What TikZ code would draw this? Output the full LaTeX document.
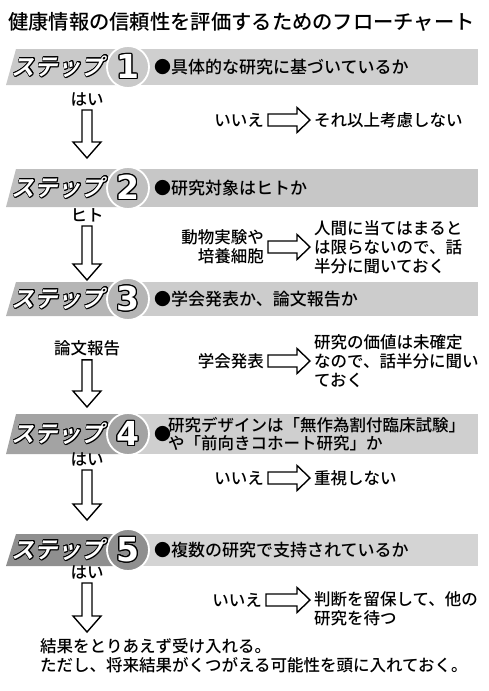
\documentclass[tikz,border=0pt]{standalone}
\usepackage{fontspec}
\usepackage{contour}
\usetikzlibrary{calc}
\setmainfont{Noto Sans CJK JP Medium}[BoldFont={Noto Sans CJK JP Bold}]
\newfontfamily\stepfont{Noto Sans CJK JP Bold}[FakeSlant=0.25]
\newfontfamily\numfont{DejaVu Sans}
\contourlength{0.9pt}

\tikzset{
  blockarrow/.style n args={3}{draw, fill=white, line width=1.4pt, line join=miter,
    to path={($(\tikztostart)!#1!90:(\tikztotarget)$)
      -- ($($(\tikztotarget)!#3!(\tikztostart)$)!#1!90:(\tikztotarget)$)
      -- ($($(\tikztotarget)!#3!(\tikztostart)$)!#2!90:(\tikztotarget)$)
      -- (\tikztotarget)
      -- ($($(\tikztotarget)!#3!(\tikztostart)$)!#2!-90:(\tikztotarget)$)
      -- ($($(\tikztotarget)!#3!(\tikztostart)$)!#1!-90:(\tikztotarget)$)
      -- ($(\tikztostart)!#1!-90:(\tikztotarget)$) -- cycle}},
  yes arrow/.style={blockarrow={5pt}{14pt}{16pt}},
  no arrow/.style={blockarrow={6pt}{12.5pt}{13pt}}
}

\begin{document}
\begin{tikzpicture}[x=1pt,y=-1pt,
  label node/.style={inner sep=4pt,font=\fontsize{16.5}{19}\selectfont},
  ask node/.style={anchor=west,inner sep=2pt,font=\fontsize{17}{18}\selectfont},
  step badge/.style={circle,draw=white,line width=1.8pt,minimum size=42pt,inner sep=0pt,text=white,font=\numfont\bfseries\fontsize{33}{33}\selectfont},
  step name/.style={inner sep=0pt,text=white,font=\stepfont\fontsize{23}{23}\selectfont}]
\useasboundingbox (0,0) rectangle (488,691);

\node[anchor=west,inner sep=0pt,font=\fontsize{20.3}{22}\selectfont] (title) at (8,22) {健康情報の信頼性を評価するためのフローチャート};

\foreach \n/\y/\h/\l/\b in {1/67/18/42/38,2/188/19/50/44,3/299/17/58/40,4/434/20/72/38,5/550/16/88/34}{
  \fill[gray!\b] (128,\y-\h) rectangle (478,\y+\h);
  \fill[gray!\l] (6,\y+\h) -- (16,\y-\h) -- (128,\y-\h) -- (128,\y+\h) -- cycle;
  \node[step badge,fill=gray!\l] (c\n) at (128,\y) {\contourlength{1.1pt}\contour{black}{\n}};
  \node[step name] (s\n) at (58,\y) {\contour{black}{ステップ}};
}

\node[ask node] (q1) at (152,67) {●具体的な研究に基づいているか};
\node[ask node] (q2) at (152,188) {●研究対象はヒトか};
\node[ask node] (q3) at (152,299) {●学会発表か、論文報告か};
\node[ask node] (b4) at (152,434) {●};
\node[ask node,align=left,font=\fontsize{16.5}{17.5}\selectfont] (q4) at (166,434) {研究デザインは「無作為割付臨床試験」\\や「前向きコホート研究」か};
\node[ask node] (q5) at (152,550) {●複数の研究で支持されているか};

\node[label node] (yes1) at (87,99) {はい};
\node[label node] (yes2) at (87,215) {ヒト};
\node[label node] (yes3) at (87,348) {論文報告};
\node[label node] (yes4) at (87,459) {はい};
\node[label node] (yes5) at (87,572) {はい};

\coordinate (t1) at (87,158);
\coordinate (t2) at (87,280);
\coordinate (t3) at (87,407);
\coordinate (t4) at (87,520);
\coordinate (t5) at (87,632);

\draw[yes arrow] (yes1.south) to (t1);
\draw[yes arrow] (yes2.south) to (t2);
\draw[yes arrow] (yes3.south) to (t3);
\draw[yes arrow] (yes4.south) to (t4);
\draw[yes arrow] (yes5.south) to (t5);

\node[label node,anchor=east] (no1) at (268,120) {いいえ};
\node[label node,anchor=west] (res1) at (310,120) {それ以上考慮しない};
\node[label node,anchor=east,align=right] (no2) at (268,247) {動物実験や\\培養細胞};
\node[label node,anchor=west,align=left] (res2) at (310,247) {人間に当てはまると\\は限らないので、話\\半分に聞いておく};
\node[label node,anchor=east] (no3) at (268,361) {学会発表};
\node[label node,anchor=west,align=left] (res3) at (310,361) {研究の価値は未確定\\なので、話半分に聞い\\ておく};
\node[label node,anchor=east] (no4) at (268,478) {いいえ};
\node[label node,anchor=west] (res4) at (310,478) {重視しない};
\node[label node,anchor=east] (no5) at (266,600) {いいえ};
\node[label node,anchor=north west,align=left] (res5) at (310,587) {判断を留保して、他の\\研究を待つ};
\coordinate (r5) at (no5.east -| res5.west);

\draw[no arrow] (no1.east) to (res1.west);
\draw[no arrow] (no2.east) to (res2.west);
\draw[no arrow] (no3.east) to (res3.west);
\draw[no arrow] (no4.east) to (res4.west);
\draw[no arrow] (no5.east) to (r5);

\node[label node,anchor=north west,align=left] (final) at (36,634) {結果をとりあえず受け入れる。\\ただし、将来結果がくつがえる可能性を頭に入れておく。};
\end{tikzpicture}
\end{document}
